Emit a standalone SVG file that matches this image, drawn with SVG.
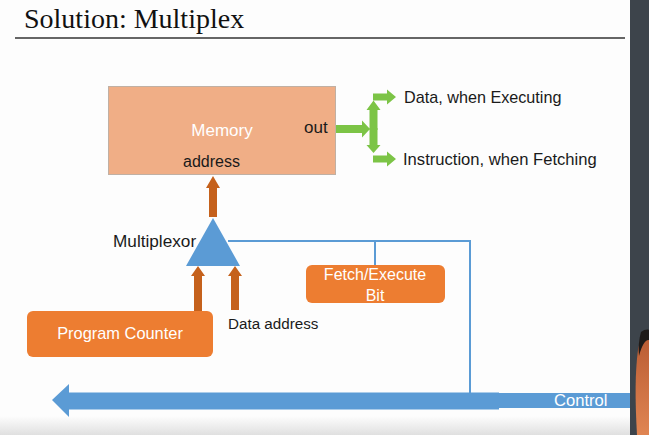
<svg xmlns="http://www.w3.org/2000/svg" width="649" height="435" viewBox="0 0 649 435">
<defs>
<linearGradient id="floor" x1="0" y1="0" x2="0" y2="1">
<stop offset="0" stop-color="#fdfdfd"/>
<stop offset="1" stop-color="#e0e0e0"/>
</linearGradient>
<linearGradient id="person" x1="0" y1="0" x2="0" y2="1">
<stop offset="0" stop-color="#b85a32"/>
<stop offset="1" stop-color="#e08552"/>
</linearGradient>
<style>
.t{font-family:"Liberation Sans",Arial,sans-serif;fill:#1a1a1a}
.w{font-family:"Liberation Sans",Arial,sans-serif;fill:#ffffff}
.orange{fill:#ed7d31}
.brown{fill:#c5611c}
.green{fill:#7cc446}
.wire{fill:none;stroke:#5b9bd5;stroke-width:2}
</style>
</defs>
<rect x="0" y="0" width="649" height="435" fill="#fdfdfd"/>
<rect x="0" y="416" width="630" height="19" fill="url(#floor)"/>
<text x="24" y="28" font-family="'Liberation Serif','Times New Roman',serif" font-size="28" fill="#111">Solution: Multiplex</text>
<line x1="15" y1="38" x2="625" y2="38" stroke="#333" stroke-width="1.5"/>

<g id="memory">
<rect x="108.5" y="86.5" width="227" height="88" fill="#f0ae86" stroke="#c0b0a4" stroke-width="1"/>
<text class="w" x="222" y="136" text-anchor="middle" font-size="17">Memory</text>
<text class="t" x="304" y="133" font-size="17">out</text>
<text class="t" x="183" y="167" font-size="16">address</text>
</g>

<g id="multiplexor">
<polygon points="213,218 240,266 186,266" fill="#5b9bd5"/>
<text class="t" x="113" y="247" font-size="17.2">Multiplexor</text>
</g>

<g id="program-counter">
<rect class="orange" x="27" y="311" width="186" height="46" rx="6"/>
<text class="w" x="120" y="339" text-anchor="middle" font-size="16.4">Program Counter</text>
</g>

<g id="data-address">
<text class="t" x="228" y="329" font-size="15.2">Data address</text>
</g>

<g id="fetch-execute">
<rect class="orange" x="306" y="265" width="139" height="38" rx="6"/>
<text class="w" x="375" y="280" text-anchor="middle" font-size="16">Fetch/Execute</text>
<text class="w" x="375" y="301" text-anchor="middle" font-size="16">Bit</text>
</g>

<g id="outputs">
<text class="t" x="404" y="103" font-size="16.2">Data, when Executing</text>
<text class="t" x="403" y="165" font-size="16.6">Instruction, when Fetching</text>
</g>

<g id="connectors">
<!-- mux to memory address -->
<polygon class="brown" points="209,217 209,188 206,188 213,176 220,188 217,188 217,217"/>
<!-- program counter to mux -->
<polygon class="brown" points="194,311 194,276 191,276 198,266 205,276 202,276 202,311"/>
<!-- data address to mux -->
<polygon class="brown" points="231,310 231,276 228,276 235,266 242,276 239,276 239,310"/>
<!-- out green arrows -->
<polygon class="green" points="336,125 362,125 362,120.5 370,129 362,137.5 362,133 336,133"/>
<polygon class="green" points="369.5,130 369.5,110 366.5,110 373.5,100.5 380.5,110 377.5,110 377.5,130"/>
<polygon class="green" points="369.5,128 369.5,145 366.5,145 373.5,153 380.5,145 377.5,145 377.5,128"/>
<polygon class="green" points="373,93.5 387,93.5 387,89.5 396,97 387,104.5 387,100.5 373,100.5"/>
<polygon class="green" points="373,155.5 387,155.5 387,151.5 396,159 387,166.5 387,162.5 373,162.5"/>
<!-- control wires -->
<polyline class="wire" points="228,241 470,241 470,393"/>
<line class="wire" x1="375" y1="240" x2="375" y2="265"/>
<!-- control bus -->
<polygon fill="#5b9bd5" points="52,400 69,384 69,392.5 499,392.5 499,409.5 69,409.5 69,417"/>
<rect x="498" y="393" width="132" height="15" fill="#5b9bd5"/>
<text class="w" x="554" y="406" font-size="16.6">Control</text>
</g>

<rect x="630" y="0" width="19" height="435" fill="#3d444b"/>
<path d="M641,336 C644,332 649,332 649,334 L649,435 L637,435 C635,400 635,372 638,350 Z" fill="url(#person)"/>
<path d="M641,332 C644,329 649,329 649,330 L649,340 C646,339 642,344 639,356 C638,348 639,339 641,332 Z" fill="#1e1a18"/>
</svg>
